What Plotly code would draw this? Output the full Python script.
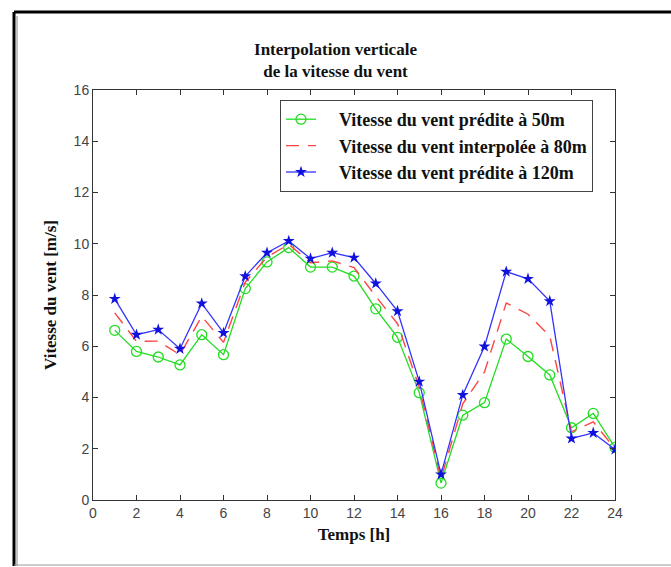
import plotly.graph_objects as go

# Heures de la journée
heures = list(range(1, 25))

# Vitesse du vent [m/s]
v50 = [6.62, 5.80, 5.58, 5.27, 6.45, 5.67, 8.25, 9.29, 9.85, 9.09, 9.09, 8.74,
       7.46, 6.35, 4.19, 0.66, 3.31, 3.80, 6.28, 5.60, 4.88, 2.82, 3.38, 2.05]
v80 = [7.30, 6.19, 6.20, 5.67, 7.17, 6.15, 8.50, 9.48, 9.98, 9.26, 9.33, 9.07,
       7.95, 6.88, 4.40, 0.83, 3.75, 5.00, 7.69, 7.25, 6.40, 2.66, 3.05, 2.00]
v120 = [7.85, 6.45, 6.65, 5.90, 7.67, 6.52, 8.73, 9.65, 10.11, 9.42, 9.65, 9.46,
        8.45, 7.37, 4.62, 1.00, 4.10, 5.99, 8.91, 8.63, 7.76, 2.40, 2.62, 1.97]

noms = ["Vitesse du vent prédite à 50m",
        "Vitesse du vent interpolée à 80m",
        "Vitesse du vent prédite à 120m"]

W, H = 671, 567
L, R, T, B = 93, 56, 90, 67

serif = "Liberation Serif, Times New Roman, serif"
sans = "Liberation Sans, Arial, sans-serif"


def etiquette(nom):
    return "&nbsp;&nbsp;&nbsp;&nbsp;<b>" + nom + "</b>"


fig = go.Figure()
fig.add_trace(go.Scatter(
    x=heures, y=v50, name=etiquette(noms[0]), mode="lines+markers",
    line=dict(color="#22dd22", width=1.3),
    marker=dict(symbol="circle-open", size=10, color="#22dd22", line=dict(width=1.3))))
fig.add_trace(go.Scatter(
    x=heures, y=v80, name=etiquette(noms[1]), mode="lines",
    line=dict(color="#ff4444", width=1.4, dash="13px,9px")))
fig.add_trace(go.Scatter(
    x=heures, y=v120, name=etiquette(noms[2]), mode="lines+markers",
    line=dict(color="#3333ff", width=1.3),
    marker=dict(symbol="star", size=9, color="#1111dd")))

axis_common = dict(
    showgrid=False, zeroline=False, showline=True, mirror="ticks",
    linecolor="#333333", linewidth=1, ticks="inside", ticklen=5,
    tickcolor="#333333", tickfont=dict(family=sans, size=14, color="#444444"))

fig.update_xaxes(range=[0, 24], dtick=2, tick0=0,
                 title=dict(text="<b>Temps [h]</b>",
                            font=dict(family=serif, size=17, color="#111111"),
                            standoff=8),
                 **axis_common)
fig.update_yaxes(range=[0, 16], dtick=2, tick0=0,
                 title=dict(text="<b>Vitesse du vent [m/s]</b>",
                            font=dict(family=serif, size=17, color="#111111"),
                            standoff=12),
                 **axis_common)


def px_x(px):
    return (px - L) / (W - L - R)


def px_y(py):
    return (H - B - py) / (H - T - B)


# Cadre de la figure
cadre = [
    (14, 12, 671, 12, "#000000", 3),
    (14, 12, 14, 566, "#000000", 3),
    (17, 16, 17, 566, "#888888", 1),
    (14, 565, 671, 565, "#999999", 1),
]
shapes = []
for x0, y0, x1, y1, c, w in cadre:
    shapes.append(dict(type="line", xref="paper", yref="paper",
                       x0=px_x(x0), y0=px_y(y0), x1=px_x(x1), y1=px_y(y1),
                       line=dict(color=c, width=w)))

fig.update_layout(
    width=W, height=H,
    margin=dict(l=L, r=R, t=T, b=B),
    paper_bgcolor="white", plot_bgcolor="white",
    title=dict(text="<b>Interpolation verticale<br>de la vitesse du vent</b>",
               x=px_x(354), xanchor="center", y=1 - 55 / H, yanchor="middle",
               font=dict(family=serif, size=17, color="#111111")),
    legend=dict(x=px_x(280), y=px_y(100), xanchor="left", yanchor="top",
                bgcolor="white", bordercolor="#444444", borderwidth=1,
                font=dict(family=serif, size=18, color="#111111"),
                tracegroupgap=0),
    shapes=shapes,
    showlegend=True,
)

fig.write_html("out.html")
